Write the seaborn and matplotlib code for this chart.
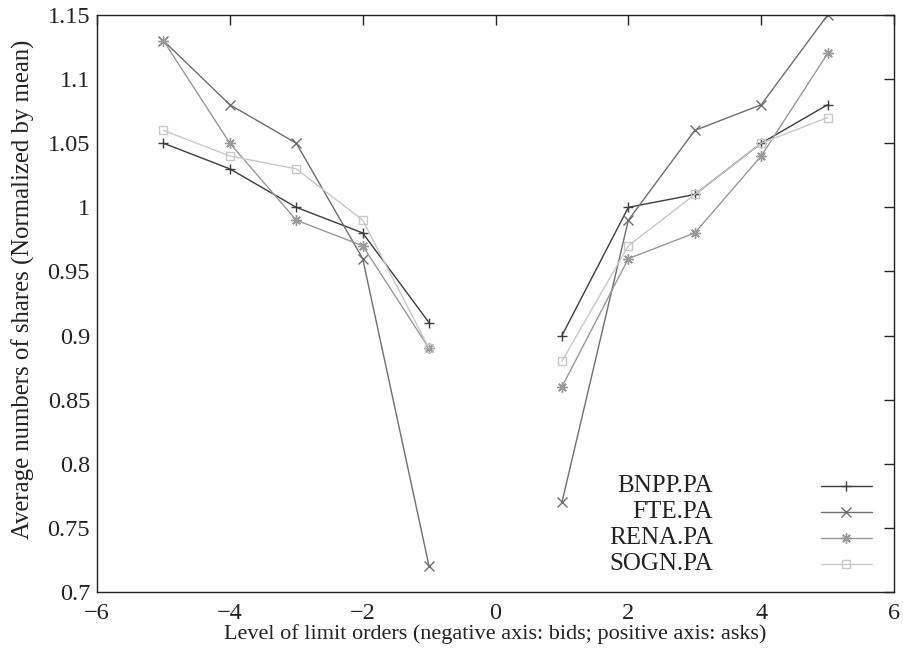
import matplotlib
matplotlib.use("Agg")
import matplotlib.pyplot as plt
import numpy as np
import pandas as pd
import seaborn as sns
from matplotlib.ticker import FuncFormatter

# Order-book levels: bids (negative) and asks (positive)
levels = [-5, -4, -3, -2, -1, 1, 2, 3, 4, 5]

stocks = ["BNPP.PA", "FTE.PA", "RENA.PA", "SOGN.PA"]

bnpp = [1.05, 1.03, 1.00, 0.98, 0.91, 0.90, 1.00, 1.01, 1.05, 1.08]
fte = [1.13, 1.08, 1.05, 0.96, 0.72, 0.77, 0.99, 1.06, 1.08, 1.15]
rena = [1.13, 1.05, 0.99, 0.97, 0.89, 0.86, 0.96, 0.98, 1.04, 1.12]
sogn = [1.06, 1.04, 1.03, 0.99, 0.89, 0.88, 0.97, 1.01, 1.05, 1.07]

series = {"BNPP.PA": bnpp, "FTE.PA": fte, "RENA.PA": rena, "SOGN.PA": sogn}

x_ticks = [-6, -4, -2, 0, 2, 4, 6]
y_ticks = [0.7, 0.75, 0.8, 0.85, 0.9, 0.95, 1.0, 1.05, 1.1, 1.15]

colors = {"BNPP.PA": "#3c3c3c", "FTE.PA": "#6e6e6e",
          "RENA.PA": "#999999", "SOGN.PA": "#c8c8c8"}
markers = {"BNPP.PA": "+", "FTE.PA": "x",
           "RENA.PA": (8, 2, 0), "SOGN.PA": "s"}
msizes = {"BNPP.PA": 7.5, "FTE.PA": 6.5, "RENA.PA": 7.5, "SOGN.PA": 5.5}

rows = []
for name, vals in series.items():
    for lv, v in zip(levels, vals):
        rows.append({"stock": name, "level": lv, "value": v,
                     "side": "bid" if lv < 0 else "ask"})
df = pd.DataFrame(rows)

sns.set_theme(style="white")
plt.rcParams["font.family"] = ["Liberation Serif", "DejaVu Serif"]
plt.rcParams["axes.unicode_minus"] = True

fig = plt.figure(figsize=(9.04, 6.51), dpi=100)
ax = fig.add_axes([0.1073, 0.0906, 0.8817, 0.8864])

# one curve per stock, broken between the bid and ask sides
for name in stocks:
    sub = df[df["stock"] == name]
    sns.lineplot(data=sub, x="level", y="value", units="side", estimator=None,
                 color=colors[name], marker=markers[name],
                 markersize=msizes[name], markerfacecolor="none",
                 markeredgecolor=colors[name], markeredgewidth=1.0,
                 linewidth=1.0, legend=False, ax=ax)

ax.set_xlim(-6, 6)
ax.set_ylim(0.7, 1.15)
ax.set_xticks(x_ticks)
ax.set_yticks(y_ticks)
ax.xaxis.set_major_formatter(FuncFormatter(lambda v, p: ("%g" % v).replace("-", "\u2212")))
ax.yaxis.set_major_formatter(FuncFormatter(lambda v, p: "%g" % round(v, 2)))
ax.tick_params(direction="in", length=7, width=1, color="#222222",
               top=True, right=True, labelsize=17.5, labelcolor="#222222")
ax.tick_params(axis="x", pad=8)
ax.tick_params(axis="y", pad=5)
for sp in ax.spines.values():
    sp.set_color("#222222")
    sp.set_linewidth(1.0)

ax.set_xlabel("Level of limit orders (negative axis: bids; positive axis: asks)",
              fontsize=16, color="#222222", labelpad=0)
ax.set_ylabel("Average numbers of shares (Normalized by mean)",
              fontsize=17.8, color="#222222")
ax.yaxis.set_label_coords(-0.078, 0.525)

# key in the lower right, labels right-aligned before the samples
key_y = [0.184, 0.139, 0.094, 0.049]
for name, yk in zip(stocks, key_y):
    ax.text(0.773, yk, name, transform=ax.transAxes, ha="right", va="center",
            fontsize=18, color="#222222")
    ax.plot([0.908, 0.940, 0.972], [yk, yk, yk], transform=ax.transAxes,
            color=colors[name], linewidth=1.0, marker=markers[name],
            markevery=[1], markersize=msizes[name], markerfacecolor="none",
            markeredgecolor=colors[name], markeredgewidth=1.0, clip_on=False)

fig.savefig("out.png", dpi=100)
